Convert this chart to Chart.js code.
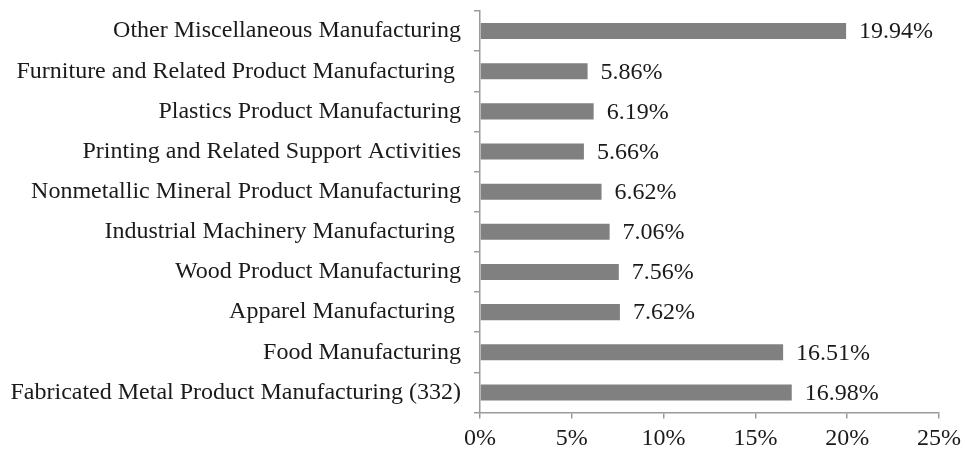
<!DOCTYPE html>
<html>
<head>
<meta charset="utf-8">
<script src="https://cdn.jsdelivr.net/npm/chart.js@4"></script>
<style>
  html, body { margin: 0; padding: 0; background: #fff; }
  #wrap { width: 965px; height: 450px; }
</style>
</head>
<body>
<div id="wrap"><canvas id="grafico"></canvas></div>
<script>
// Dados (de cima para baixo)
const categorias = [
    'Other Miscellaneous Manufacturing',
    'Furniture and Related Product Manufacturing ',
    'Plastics Product Manufacturing',
    'Printing and Related Support Activities',
    'Nonmetallic Mineral Product Manufacturing',
    'Industrial Machinery Manufacturing ',
    'Wood Product Manufacturing',
    'Apparel Manufacturing ',
    'Food Manufacturing',
    'Fabricated Metal Product Manufacturing (332)'
];
const percentuais = [19.94, 5.86, 6.19, 5.66, 6.62, 7.06, 7.56, 7.62, 16.51, 16.98];
const ticksX = [0, 5, 10, 15, 20, 25];

const fonte = { family: "'Liberation Serif', 'Times New Roman', serif", size: 24 };
const corEixo = '#9a9a9a';

// Rótulos de valor ao lado das barras
const rotulosPlugin = {
    id: 'rotulos',
    afterDatasetsDraw(chart) {
        const ctx = chart.ctx;
        const meta = chart.getDatasetMeta(0);
        ctx.save();
        ctx.font = fonte.size + 'px ' + fonte.family;
        ctx.fillStyle = '#1a1a1a';
        ctx.textAlign = 'left';
        ctx.textBaseline = 'middle';
        meta.data.forEach((bar, i) => {
            ctx.fillText(percentuais[i].toFixed(2) + '%', bar.x + 13, bar.y + 1);
        });
        ctx.restore();
    }
};

new Chart(document.getElementById('grafico').getContext('2d'), {
    type: 'bar',
    data: {
        labels: categorias,
        datasets: [{
            data: percentuais,
            backgroundColor: '#808080',
            barPercentage: 0.8,
            categoryPercentage: 0.5
        }]
    },
    options: {
        indexAxis: 'y',
        responsive: true,
        maintainAspectRatio: false,
        animation: false,
        layout: { padding: { top: 11, right: 26, left: 0, bottom: 0 } },
        plugins: {
            legend: { display: false },
            tooltip: { enabled: false }
        },
        scales: {
            x: {
                min: 0,
                max: 25,
                afterBuildTicks: axis => { axis.ticks = ticksX.map(v => ({ value: v })); },
                afterFit: axis => { axis.height = 37.5; axis.paddingLeft = 0; axis.paddingRight = 0; },
                grid: { drawOnChartArea: false, tickLength: 6, color: corEixo, lineWidth: 1.5 },
                border: { color: corEixo, width: 1.5 },
                ticks: {
                    color: '#1a1a1a',
                    font: fonte,
                    padding: 6,
                    callback: v => v + '%'
                }
            },
            y: {
                afterFit: axis => { axis.width = 480; axis.paddingTop = 0; axis.paddingBottom = 0; },
                grid: { drawOnChartArea: false, tickLength: 6, offset: true, color: corEixo, lineWidth: 1.5 },
                border: { color: corEixo, width: 1.5 },
                ticks: {
                    color: '#1a1a1a',
                    font: fonte,
                    padding: 13
                }
            }
        }
    },
    plugins: [rotulosPlugin]
});
</script>
</body>
</html>
